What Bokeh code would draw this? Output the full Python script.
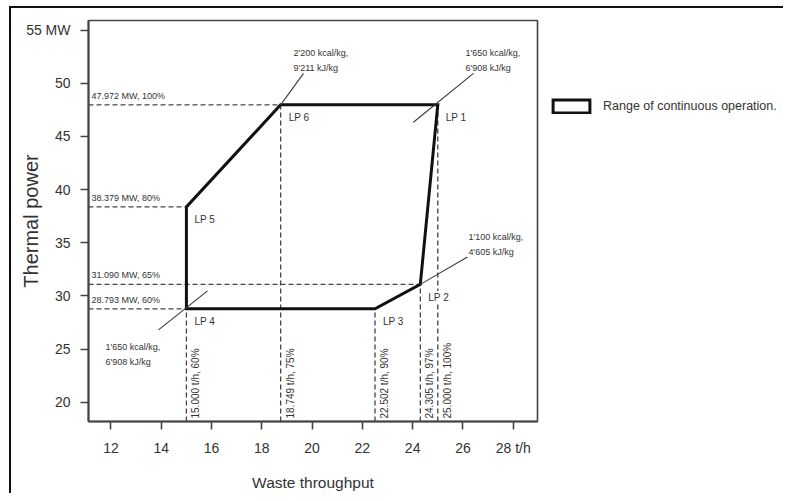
import math
from bokeh.plotting import figure
from bokeh.layouts import row
from bokeh.models import ColumnDataSource, Legend, LegendItem, Range1d
from bokeh.core.properties import value
from bokeh.embed import file_html
from bokeh.resources import INLINE

# ---------------- data ----------------
lp_names = ["LP 1", "LP 2", "LP 3", "LP 4", "LP 5", "LP 6"]
lp_throughput = [25.000, 24.305, 22.502, 15.000, 15.000, 18.749]   # t/h
lp_power = [47.972, 31.090, 28.793, 28.793, 38.379, 47.972]        # MW

power_levels = [47.972, 38.379, 31.090, 28.793]                     # MW
power_pct = [100, 80, 65, 60]
power_guide_end = [18.749, 15.000, 24.305, 15.000]                  # t/h

throughput_levels = [15.000, 18.749, 22.502, 24.305, 25.000]        # t/h
throughput_pct = [60, 75, 90, 97, 100]
throughput_guide_end = [28.793, 47.972, 28.793, 31.090, 47.972]     # MW

x_ticks = [12, 14, 16, 18, 20, 22, 24, 26, 28]
x_tick_labels = {28: "28 t/h"}
y_ticks = [20, 25, 30, 35, 40, 45, 50, 55]
y_tick_labels = {55: "55 MW"}

hv_kcal = ["2'200 kcal/kg,", "1'650 kcal/kg,", "1'100 kcal/kg,", "1'650 kcal/kg,"]
hv_kj = ["9'211 kJ/kg", "6'908 kJ/kg", "4'605 kJ/kg", "6'908 kJ/kg"]

legend_label = "Range of continuous operation."
x_title = "Waste throughput"
y_title = "Thermal power"

# ---------------- layout of annotations (data coords) ----------------
hv_text_x = [19.26, 26.10, 26.22, 11.78]
hv_text_y = [52.8, 52.8, 35.54, 25.23]
leader_xs = [[18.749, 19.66], [26.42, 24.03], [26.18, 24.305], [13.89, 15.84]]
leader_ys = [[47.972, 50.93], [50.93, 46.33], [33.67, 31.090], [26.82, 30.48]]

X0, X1 = 11.105, 28.967
Y0, Y1 = 18.2, 55.9
FONT = "Liberation Sans"
TXT = "#333333"
LINE = "#444444"

p = figure(width=530, height=485, x_range=Range1d(X0, X1), y_range=Range1d(Y0, Y1),
           output_backend="svg", toolbar_location=None,
           min_border_left=77, min_border_right=4, min_border_top=12, min_border_bottom=71)
p.background_fill_color = "white"
p.border_fill_color = "white"
p.outline_line_color = LINE
p.outline_line_width = 1.6
p.xgrid.grid_line_color = None
p.ygrid.grid_line_color = None

for ax in (p.xaxis[0], p.yaxis[0]):
    ax.axis_line_color = LINE
    ax.axis_line_width = 2
    ax.major_tick_line_color = LINE
    ax.major_tick_line_width = 1.6
    ax.major_tick_out = 8
    ax.major_tick_in = 0
    ax.minor_tick_line_color = None
    ax.major_label_text_font = FONT
    ax.major_label_text_font_size = "14px"
    ax.major_label_text_color = TXT
    ax.axis_label_text_font = FONT
    ax.axis_label_text_font_style = "normal"
    ax.axis_label_text_color = TXT

p.xaxis.ticker = x_ticks
p.xaxis.major_label_overrides = x_tick_labels
p.xaxis.axis_label = x_title
p.xaxis.axis_label_text_font_size = "15.5px"
p.xaxis.major_label_standoff = 10
p.xaxis.axis_label_standoff = 15

p.yaxis.ticker = y_ticks
p.yaxis.major_label_overrides = y_tick_labels
p.yaxis.axis_label = y_title
p.yaxis.axis_label_text_font_size = "20px"
p.yaxis.major_label_standoff = 10
p.yaxis.axis_label_standoff = -19

# guide lines
p.segment(x0=[X0] * len(power_levels), y0=power_levels, x1=power_guide_end, y1=power_levels,
          line_color=LINE, line_width=1.3, line_dash="5 3")
p.segment(x0=throughput_levels, y0=[Y0] * len(throughput_levels), x1=throughput_levels,
          y1=throughput_guide_end, line_color=LINE, line_width=1.3, line_dash="5 3")

# operating range polygon
patch_style = dict(fill_alpha=0, line_color="#111111", line_width=3, line_join="miter")
patch_r = p.patch(x=lp_throughput, y=lp_power, **patch_style)

# leader lines
p.multi_line(xs=leader_xs, ys=leader_ys, line_color="#3a3a3a", line_width=1.1)

# texts
p.text(x=[X0] * len(power_levels), y=power_levels,
       text=[f"{v:.3f} MW, {c}%" for v, c in zip(power_levels, power_pct)],
       x_offset=3, y_offset=-4, text_align="left", text_baseline="bottom",
       text_font=value(FONT), text_font_size="9px", text_color=TXT)

p.text(x=throughput_levels, y=[Y0] * len(throughput_levels),
       text=[f"{v:.3f} t/h, {c}%" for v, c in zip(throughput_levels, throughput_pct)],
       angle=math.pi / 2, x_offset=4, y_offset=-3, text_align="left", text_baseline="top",
       text_font=value(FONT), text_font_size="10px", text_color=TXT)

p.text(x=lp_throughput, y=lp_power, text=lp_names, x_offset=7, y_offset=13,
       text_align="left", text_baseline="middle",
       text_font=value(FONT), text_font_size="10px", text_color=TXT,
       background_fill_color="white", padding=1)

hv_src = ColumnDataSource(dict(x=hv_text_x + hv_text_x, y=hv_text_y + hv_text_y,
                               t=hv_kcal + hv_kj,
                               yo=[0] * len(hv_kcal) + [15] * len(hv_kj)))
p.text(x="x", y="y", text="t", y_offset="yo", source=hv_src, text_align="left",
       text_baseline="middle", text_font=value(FONT), text_font_size="9px", text_color=TXT)

# ---------------- legend panel ----------------
q = figure(width=242, height=485, x_range=Range1d(0, 1), y_range=Range1d(0, 1),
           output_backend="svg", toolbar_location=None,
           x_axis_location=None, y_axis_location=None,
           min_border=0, min_border_left=0, min_border_right=0,
           min_border_top=0, min_border_bottom=0)
q.outline_line_color = None
q.xgrid.grid_line_color = None
q.ygrid.grid_line_color = None
q.background_fill_color = "white"
q.border_fill_color = "white"
# same polygon, lying outside this panel's view: only its legend swatch is seen
legend_r = q.patch(x=lp_throughput, y=lp_power, **patch_style)

legend = Legend(items=[LegendItem(label=legend_label, renderers=[legend_r])],
                location=(7, 307), padding=0, margin=0, border_line_alpha=0,
                background_fill_alpha=0, glyph_width=46, glyph_height=16, label_height=16,
                label_standoff=9, label_text_font=FONT, label_text_font_size="12.5px",
                label_text_color=TXT)
q.add_layout(legend)

layout = row(p, q)
layout.styles = {"margin-left": "9px", "margin-top": "6px",
                 "border-left": "2px solid #111111", "border-top": "2px solid #111111"}

open("out.html", "w").write(file_html(layout, INLINE))
